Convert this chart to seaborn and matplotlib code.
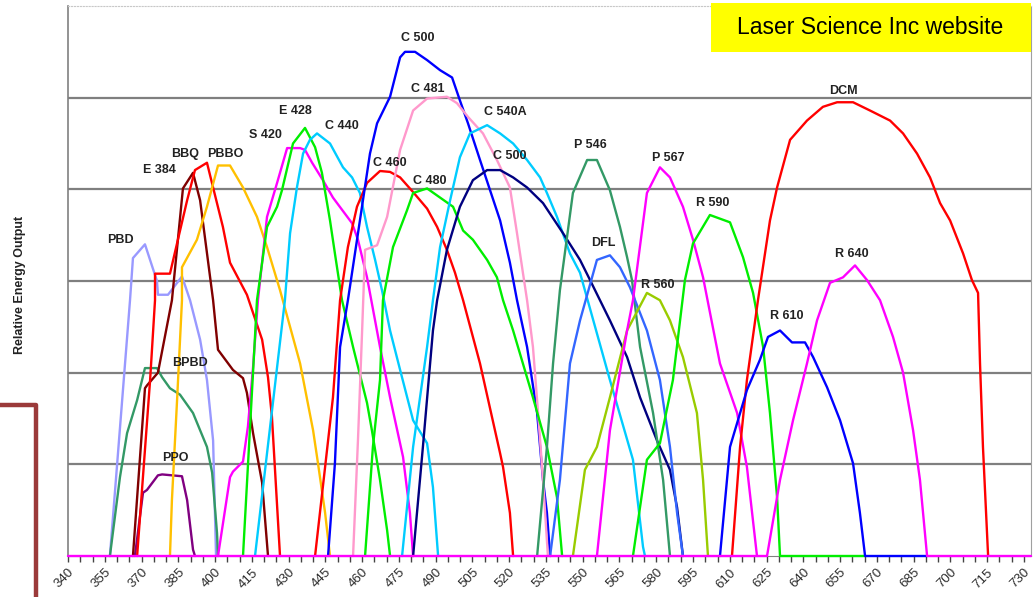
import pandas as pd
import seaborn as sns
import matplotlib.pyplot as plt
from matplotlib.patches import Rectangle
from matplotlib.lines import Line2D

# wavelength (nm) / relative output
pbd_x = [357.1, 365.3, 366.5, 371.4, 376.3, 376.7, 380.8, 386.5, 389.8, 393.9, 396.7, 399.2, 400.4]
pbd_y = [0, 2.79, 3.25, 3.40, 3.00, 2.85, 2.85, 3.05, 2.79, 2.36, 1.92, 1.26, 0]

bpbd_x = [357.1, 361.2, 364.1, 368.2, 371.4, 376.3, 378.4, 381.6, 385.7, 391.0, 396.7, 398.8, 400.8, 401.2]
bpbd_y = [0, 0.86, 1.34, 1.70, 2.05, 2.05, 1.95, 1.83, 1.76, 1.56, 1.19, 0.91, 0.25, 0]

ppo_x = [367.3, 370.6, 372.2, 376.7, 378.4, 386.5, 388.6, 391.0, 391.8]
ppo_y = [0, 0.69, 0.72, 0.88, 0.89, 0.87, 0.61, 0.07, 0]

e384_x = [366.5, 371.4, 372.2, 376.7, 382.4, 386.9, 391.0, 393.9, 399.2, 401.2, 407.3, 411.4, 413.0, 415.5, 419.2, 421.6]
e384_y = [0, 1.83, 1.86, 2.00, 2.79, 4.01, 4.18, 3.88, 2.79, 2.25, 2.03, 1.94, 1.78, 1.34, 0.80, 0]

bbq_x = [368.2, 373.5, 375.5, 375.5, 381.6, 388.6, 391.8, 396.7, 399.2, 403.2, 406.1, 413.0, 419.2, 421.6, 423.2, 426.5]
bbq_y = [0, 1.92, 2.79, 3.08, 3.08, 3.88, 4.21, 4.29, 4.02, 3.59, 3.20, 2.85, 2.36, 1.95, 1.52, 0]

pbbo_x = [381.6, 382.4, 384.5, 386.5, 386.5, 392.6, 396.7, 401.2, 406.1, 411.4, 417.1, 421.2, 426.5, 434.7, 440.0, 442.0, 444.9, 446.9]
pbbo_y = [0, 0.61, 1.70, 2.79, 3.15, 3.45, 3.81, 4.26, 4.26, 4.02, 3.70, 3.37, 2.90, 2.10, 1.37, 1.01, 0.47, 0]

s420_x = [401.2, 406.1, 407.3, 411.4, 413.4, 415.5, 417.5, 421.2, 425.3, 429.4, 434.7, 436.7, 439.6, 444.0, 448.1,
          455.9, 458.3, 462.0, 467.3, 471.4, 476.7, 479.5, 480.8]
s420_y = [0, 0.86, 0.92, 1.03, 1.41, 2.06, 2.79, 3.70, 4.07, 4.45, 4.45, 4.43, 4.29, 4.10, 3.91,
          3.63, 3.45, 3.04, 2.28, 1.73, 1.08, 0.47, 0]

e428_x = [411.4, 417.1, 421.2, 425.3, 427.3, 431.8, 436.7, 440.8, 443.6, 446.9, 448.9, 451.8, 456.3, 462.0, 464.0, 467.3, 470.2, 471.4]
e428_y = [0, 2.79, 3.59, 3.81, 3.99, 4.50, 4.67, 4.46, 4.18, 3.66, 3.30, 2.79, 2.28, 1.67, 1.37, 0.83, 0.28, 0]

c440_x = [416.3, 428.5, 430.6, 433.4, 435.9, 438.7, 441.6, 446.9, 452.2, 455.9, 459.1, 462.0, 465.3, 468.1,
          471.4, 475.5, 480.8, 486.5, 488.9, 491.0]
c440_y = [0, 2.79, 3.52, 4.02, 4.39, 4.54, 4.61, 4.50, 4.24, 4.13, 3.96, 3.59, 3.23, 2.90,
          2.46, 2.03, 1.48, 1.23, 0.75, 0]

c460_x = [440.8, 448.1, 451.0, 454.2, 457.9, 462.0, 467.3, 471.4, 475.5, 480.8, 486.5, 490.6, 494.6, 497.9,
          501.2, 508.1, 516.3, 517.5, 520.3, 521.6]
c460_y = [0, 1.73, 2.79, 3.37, 3.81, 4.07, 4.20, 4.19, 4.13, 3.97, 3.79, 3.59, 3.34, 3.09,
          2.79, 2.10, 1.12, 0.97, 0.47, 0]

c500_x = [446.1, 448.9, 451.0, 454.2, 459.1, 463.2, 466.1, 471.4, 475.5, 477.5, 481.6, 486.5, 491.8, 496.7,
          499.9, 503.2, 508.1, 512.2, 516.3, 520.3, 523.2, 527.3, 531.4, 533.8, 535.4, 536.7]
c500_y = [0, 1.01, 2.28, 2.79, 3.66, 4.39, 4.72, 5.01, 5.44, 5.50, 5.50, 5.41, 5.30, 5.22,
          4.97, 4.72, 4.32, 3.99, 3.66, 3.20, 2.79, 2.28, 1.56, 0.83, 0.47, 0]

c481_x = [456.3, 458.3, 460.0, 461.2, 466.1, 470.2, 475.5, 480.8, 486.5, 494.6, 498.7, 503.2, 509.3, 515.0,
          520.3, 523.2, 525.6, 527.3, 529.7, 531.8, 533.8, 535.8]
c481_y = [0, 1.26, 2.46, 3.34, 3.39, 3.70, 4.43, 4.86, 4.99, 5.01, 4.94, 4.79, 4.61, 4.32,
          4.02, 3.52, 3.09, 2.79, 2.28, 1.56, 0.83, 0]

c480_x = [461.2, 464.4, 467.3, 468.5, 472.6, 478.3, 480.8, 486.5, 491.8, 497.1, 501.2, 505.2, 511.0, 515.0,
          517.5, 521.6, 529.7, 535.4, 539.5, 541.6]
c480_y = [0, 1.19, 1.92, 2.79, 3.37, 3.77, 3.96, 4.01, 3.91, 3.81, 3.55, 3.45, 3.23, 3.04,
          2.79, 2.46, 1.73, 1.19, 0.64, 0]

c540a_x = [476.3, 480.8, 486.5, 488.9, 491.8, 495.9, 499.9, 504.0, 511.0, 516.3, 521.6, 527.3, 532.6, 535.4,
           539.5, 544.8, 548.9, 561.1, 570.5, 574.6, 575.4]
c540a_y = [0, 1.19, 2.28, 2.79, 3.37, 3.88, 4.35, 4.61, 4.70, 4.61, 4.50, 4.32, 4.13, 3.96,
           3.70, 3.30, 3.09, 1.92, 1.05, 0.10, 0]

c500n_x = [480.8, 484.8, 488.9, 490.6, 494.6, 499.9, 505.2, 511.0, 516.3, 521.6, 527.3, 533.8, 542.0, 548.9,
           553.0, 561.1, 568.1, 573.4, 580.3, 585.6, 588.5, 590.9]
c500n_y = [0, 1.19, 2.46, 2.79, 3.34, 3.81, 4.10, 4.21, 4.21, 4.13, 4.02, 3.85, 3.52, 3.23,
           3.01, 2.57, 2.17, 1.73, 1.26, 0.94, 0.53, 0]

p546_x = [531.4, 535.4, 537.9, 540.7, 546.0, 551.8, 555.8, 561.1, 565.2, 568.1, 570.1, 573.4, 578.7, 582.8, 585.6]
p546_y = [0, 1.19, 2.10, 2.90, 3.96, 4.32, 4.32, 3.99, 3.59, 3.26, 3.01, 2.28, 1.56, 0.83, 0]

dfl_x = [536.7, 540.7, 544.8, 548.9, 555.8, 561.1, 565.2, 569.3, 576.2, 581.5, 585.6, 588.5, 590.9]
dfl_y = [0, 0.83, 2.10, 2.57, 3.23, 3.28, 3.15, 2.93, 2.46, 1.92, 1.19, 0.47, 0]

r560_x = [546.0, 550.9, 555.8, 561.1, 568.1, 576.2, 581.5, 585.6, 590.9, 596.6, 599.1, 601.1]
r560_y = [0, 0.94, 1.19, 1.73, 2.46, 2.87, 2.79, 2.57, 2.17, 1.56, 0.83, 0]

p567_x = [555.8, 561.1, 568.1, 570.5, 576.2, 581.5, 585.6, 590.9, 595.0, 599.1, 606.0, 613.0, 617.0, 621.1]
p567_y = [0, 1.37, 2.46, 2.79, 3.96, 4.24, 4.13, 3.81, 3.45, 3.04, 2.10, 1.56, 0.97, 0]

r590_x = [570.5, 576.2, 581.5, 586.8, 591.7, 595.0, 601.9, 610.1, 615.4, 619.5, 623.6, 626.4, 629.3, 630.5, 665.2]
r590_y = [0, 1.05, 1.23, 1.92, 3.01, 3.41, 3.72, 3.64, 3.26, 2.87, 2.28, 1.56, 0.64, 0, 0]

dcm_x = [610.9, 614.2, 617.0, 621.5, 626.4, 629.3, 634.6, 641.5, 648.0, 653.8, 660.3, 667.2, 675.4, 680.7,
         686.4, 691.7, 695.8, 699.9, 705.2, 708.8, 711.3, 712.1, 713.3, 715.4]
dcm_y = [0, 1.19, 1.92, 2.79, 3.66, 4.02, 4.54, 4.75, 4.90, 4.95, 4.95, 4.86, 4.75, 4.61,
         4.39, 4.13, 3.85, 3.66, 3.30, 3.01, 2.87, 2.10, 1.19, 0]

r610_x = [606.0, 610.1, 617.0, 622.3, 625.6, 630.5, 635.4, 640.7, 644.0, 649.7, 655.0, 660.3, 663.1, 665.2, 690.5]
r610_y = [0, 1.19, 1.81, 2.14, 2.39, 2.46, 2.33, 2.33, 2.17, 1.84, 1.48, 1.01, 0.47, 0, 0]

r640_x = [340, 625.2, 630.5, 635.8, 641.5, 645.6, 650.9, 656.2, 661.1, 666.0, 671.3, 676.6, 680.7, 684.8,
          687.6, 690.5, 732.9]
r640_y = [0, 0, 0.83, 1.48, 2.10, 2.57, 2.98, 3.04, 3.17, 3.01, 2.79, 2.39, 2.00, 1.37,
          0.83, 0, 0]

# series name, x, y, colour (drawing order)
series = [
    ("PBD", pbd_x, pbd_y, "#9999ff"),
    ("BPBD", bpbd_x, bpbd_y, "#339966"),
    ("PPO", ppo_x, ppo_y, "#800080"),
    ("E 384", e384_x, e384_y, "#800000"),
    ("BBQ", bbq_x, bbq_y, "#ff0000"),
    ("PBBO", pbbo_x, pbbo_y, "#ffc000"),
    ("S 420", s420_x, s420_y, "#ff00ff"),
    ("E 428", e428_x, e428_y, "#00ee00"),
    ("C 440", c440_x, c440_y, "#00ccff"),
    ("C 460", c460_x, c460_y, "#ff0000"),
    ("C 500 blue", c500_x, c500_y, "#0000ff"),
    ("C 481", c481_x, c481_y, "#ff99cc"),
    ("C 480", c480_x, c480_y, "#00ee00"),
    ("C 540A", c540a_x, c540a_y, "#00ccff"),
    ("C 500 navy", c500n_x, c500n_y, "#000080"),
    ("P 546", p546_x, p546_y, "#339966"),
    ("DFL", dfl_x, dfl_y, "#3366ff"),
    ("R 560", r560_x, r560_y, "#99cc00"),
    ("P 567", p567_x, p567_y, "#ff00ff"),
    ("R 590", r590_x, r590_y, "#00ee00"),
    ("DCM", dcm_x, dcm_y, "#ff0000"),
    ("R 610", r610_x, r610_y, "#0000ff"),
    ("R 640", r640_x, r640_y, "#ff00ff"),
]

# curve labels: text, wavelength, height
label_text = ["PBD", "E 384", "BBQ", "PBBO", "S 420", "E 428", "C 440", "C 500", "C 481", "C 540A", "C 460",
              "C 480", "C 500", "P 546", "P 567", "R 590", "DFL", "R 560", "DCM", "R 640", "R 610", "BPBD", "PPO"]
label_x = [361.2, 377.5, 387.7, 404.1, 420.4, 432.6, 451.8, 482.8, 486.9, 518.3, 471.4,
           487.7, 520.3, 553.0, 584.8, 603.2, 558.3, 580.7, 656.2, 659.9, 633.4, 389.8, 383.7]
label_y = [3.45, 4.21, 4.39, 4.39, 4.59, 4.86, 4.69, 5.65, 5.10, 4.84, 4.29,
           4.09, 4.36, 4.48, 4.34, 3.85, 3.41, 2.96, 5.07, 3.30, 2.62, 2.10, 1.07]

major_ticks = list(range(340, 731, 15))
minor_ticks = list(range(340, 733, 5))

frames = []
for name, xs, ys, _ in series:
    frames.append(pd.DataFrame({"dye": name, "nm": xs, "out": ys}))
df = pd.concat(frames, ignore_index=True)
palette = {name: col for name, _, _, col in series}
order = [name for name, _, _, _ in series]

sns.set_style("white")
plt.rcParams["font.family"] = ["Liberation Sans", "DejaVu Sans"]

fig = plt.figure(figsize=(10.35, 5.97), dpi=100)
ax = fig.add_axes([68 / 1035, 41 / 597, 963 / 1035, 550 / 597])

sns.lineplot(data=df, x="nm", y="out", hue="dye", hue_order=order, palette=palette,
             sort=False, estimator=None, legend=False, linewidth=1.7, ax=ax)
for ln in ax.lines:
    ln.set_clip_on(False)
    ln.set_zorder(3)

for t, x, y in zip(label_text, label_x, label_y):
    ax.text(x, y, t, ha="center", va="center", fontsize=9, fontweight="bold", color="#222222", zorder=4)

ax.set_xlim(340, 732.9)
ax.set_ylim(0, 6)
ax.set_yticks([1, 2, 3, 4, 5])
ax.set_yticklabels([])
ax.tick_params(axis="y", length=0)
ax.yaxis.grid(True, color="#7f7f7f", linewidth=1.6)
ax.set_axisbelow(True)

ax.set_xticks(major_ticks)
ax.set_xticks(minor_ticks, minor=True)
ax.set_xticklabels([str(v) for v in major_ticks], rotation=45, ha="right", rotation_mode="anchor",
                   fontsize=9.5, color="#2a2a2a")
ax.tick_params(axis="x", which="both", direction="out", length=4, width=1, color="#444444", bottom=True)
ax.set_xlabel("")
ax.set_ylabel("")

ax.spines["left"].set_color("#808080")
ax.spines["left"].set_linewidth(1.2)
ax.spines["right"].set_color("#a0a0a0")
ax.spines["top"].set_color("#c8c8c8")
ax.spines["top"].set_linestyle(":")
ax.spines["bottom"].set_color("#808080")

fig.text(20 / 1035, 1 - 285 / 597, "Relative Energy Output", rotation=90, ha="center", va="center",
         fontsize=9, fontweight="bold", color="#222222")

# source box
fig.patches.append(Rectangle((711 / 1035, 1 - 52 / 597), 320 / 1035, 49 / 597,
                             transform=fig.transFigure, facecolor="#ffff00", edgecolor="none", zorder=5))
fig.text(870 / 1035, 1 - 28 / 597, "Laser Science Inc website", ha="center", va="center",
         fontsize=16.5, color="black", zorder=6)

# leftover slide frame line on the left
fig.lines.append(Line2D([0, 36 / 1035, 36 / 1035], [1 - 405 / 597, 1 - 405 / 597, 0],
                        transform=fig.transFigure, color="#9b3a3a", linewidth=3.2))

fig.savefig("out.png", dpi=100)
